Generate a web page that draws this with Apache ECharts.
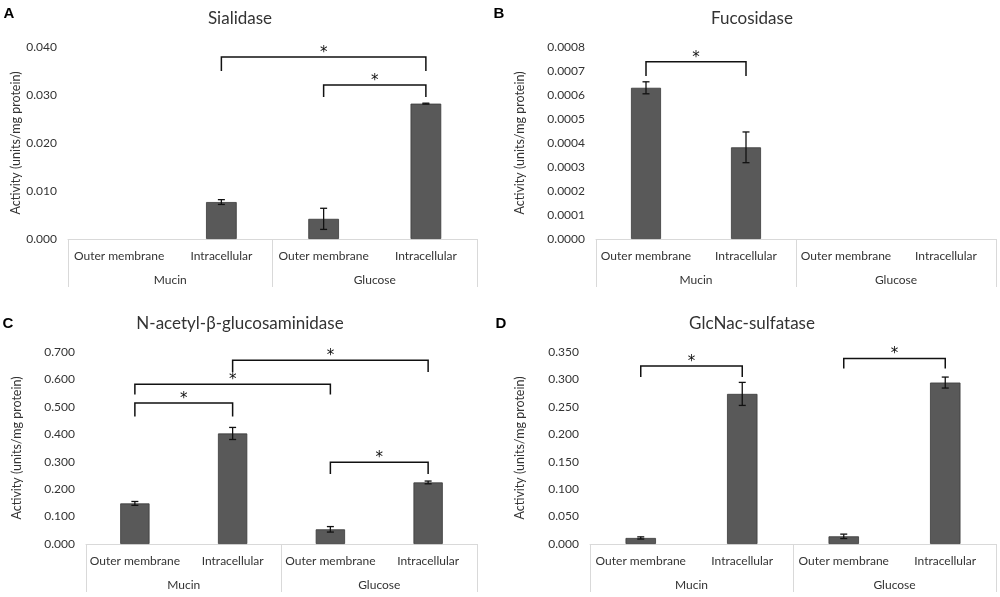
<!DOCTYPE html>
<html>
<head>
<meta charset="utf-8">
<style>
  html, body { margin: 0; padding: 0; background: #fff; }
  #main { width: 1000px; height: 597px; }
</style>
<script src="https://cdn.jsdelivr.net/npm/echarts@6/dist/echarts.min.js"></script>
</head>
<body>
<div id="main"></div>
<script>
// categories (two-level x axis)
var categories = ['Outer membrane', 'Intracellular', 'Outer membrane', 'Intracellular'];
var groups = ['Mucin', 'Glucose'];

// A - Sialidase
var sialidase = [0, 0.0077, 0.0042, 0.0282];
var sialidaseErr = [0, 0.0005, 0.0022, 0.0001];
// B - Fucosidase
var fucosidase = [0.00063, 0.000382, 0, 0];
var fucosidaseErr = [0.000025, 0.000064, 0, 0];
// C - N-acetyl-beta-glucosaminidase
var nag = [0.148, 0.403, 0.0535, 0.2245];
var nagErr = [0.007, 0.022, 0.01, 0.005];
// D - GlcNac-sulfatase
var sulfatase = [0.011, 0.2736, 0.014, 0.2943];
var sulfataseErr = [0.002, 0.021, 0.004, 0.01];

// significance brackets: [from, to, top, left leg end, right leg end]
var sialidaseSig = [[1, 3, 0.0379, 0.035, 0.035], [2, 3, 0.0321, 0.0296, 0.0296]];
var fucosidaseSig = [[0, 1, 0.000739, 0.000679, 0.000679]];
var nagSig = [[0, 1, 0.514, 0.465, 0.465], [0, 2, 0.582, 0.545, 0.545], [1, 3, 0.670, 0.627, 0.627], [2, 3, 0.2985, 0.255, 0.255]];
var sulfataseSig = [[0, 1, 0.3245, 0.3045, 0.3045], [2, 3, 0.338, 0.32, 0.32]];

// y axis ticks
var yMax = [0.04, 0.0008, 0.7, 0.35];
var yStep = [0.01, 0.0001, 0.1, 0.05];
var yDigits = [3, 4, 3, 3];

var titles = ['Sialidase', 'Fucosidase', 'N-acetyl-\u03b2-glucosaminidase', 'GlcNac-sulfatase'];
var letters = ['A', 'B', 'C', 'D'];

var panels = [
  { values: sialidase, errs: sialidaseErr, sig: sialidaseSig, grid: { left: 68, top: 47, width: 409, height: 192 }, nameGap: 45, tx: 240, ty: 19, lx: 9, ly: 14 },
  { values: fucosidase, errs: fucosidaseErr, sig: fucosidaseSig, grid: { left: 596, top: 47, width: 400, height: 192 }, nameGap: 70, tx: 752, ty: 19, lx: 499, ly: 14 },
  { values: nag, errs: nagErr, sig: nagSig, grid: { left: 86, top: 352, width: 391, height: 192 }, nameGap: 63, tx: 240, ty: 324, lx: 8, ly: 324 },
  { values: sulfatase, errs: sulfataseErr, sig: sulfataseSig, grid: { left: 590, top: 352, width: 406, height: 192 }, nameGap: 64, tx: 752, ty: 324, lx: 501, ly: 324 }
];

var textColor = '#333';
var fontFamily = 'Lato, "Open Sans", sans-serif';

function renderError(params, api) {
  var err = api.value(2);
  if (!err) return null;
  var x = api.value(0), v = api.value(1);
  var top = api.coord([x, v + err]);
  var bot = api.coord([x, v - err]);
  var style = { stroke: '#111', lineWidth: 1.3 };
  return {
    type: 'group',
    children: [
      { type: 'line', shape: { x1: top[0], y1: top[1], x2: bot[0], y2: bot[1] }, style: style },
      { type: 'line', shape: { x1: top[0] - 3.5, y1: top[1], x2: top[0] + 3.5, y2: top[1] }, style: style },
      { type: 'line', shape: { x1: bot[0] - 3.5, y1: bot[1], x2: bot[0] + 3.5, y2: bot[1] }, style: style }
    ]
  };
}

function renderBracket(params, api) {
  var a = api.coord([api.value(0), api.value(2)]);
  var b = api.coord([api.value(1), api.value(2)]);
  var la = api.coord([api.value(0), api.value(3)]);
  var lb = api.coord([api.value(1), api.value(4)]);
  return {
    type: 'group',
    children: [
      { type: 'polyline', shape: { points: [la, a, b, lb] }, style: { stroke: '#111', lineWidth: 1.5, fill: null } },
      { type: 'text', x: (a[0] + b[0]) / 2, y: a[1] - 4, style: { text: '*', fill: '#111', font: '15px "DejaVu Sans"', align: 'center', verticalAlign: 'middle' } }
    ]
  };
}

var option = {
  backgroundColor: '#fff',
  animation: false,
  grid: [],
  xAxis: [],
  yAxis: [],
  series: [],
  graphic: []
};

panels.forEach(function (p, i) {
  option.grid.push(p.grid);
  option.xAxis.push({
    type: 'category',
    gridIndex: i,
    position: 'bottom',
    data: categories,
    axisLine: { show: false },
    axisTick: { show: false },
    axisLabel: { interval: 0, margin: 11, color: textColor, fontSize: 12, fontFamily: fontFamily }
  });
  option.xAxis.push({
    type: 'category',
    gridIndex: i,
    position: 'bottom',
    data: groups,
    axisLine: { show: true, lineStyle: { color: '#d9d9d9', width: 1 } },
    axisTick: { show: true, length: 48, lineStyle: { color: '#d9d9d9', width: 1 } },
    axisLabel: { interval: 0, margin: 35, color: textColor, fontSize: 12, fontFamily: fontFamily }
  });
  option.yAxis.push({
    type: 'value',
    gridIndex: i,
    min: 0,
    max: yMax[i],
    interval: yStep[i],
    name: 'Activity (units/mg protein)',
    nameLocation: 'middle',
    nameGap: p.nameGap,
    nameTextStyle: { color: textColor, fontSize: 12.5, fontFamily: fontFamily },
    axisLine: { show: false },
    axisTick: { show: false },
    splitLine: { show: false },
    axisLabel: {
      margin: 11,
      color: textColor,
      fontSize: 12,
      fontFamily: fontFamily,
      formatter: function (v) { return v.toFixed(yDigits[i]); }
    }
  });
  option.series.push({
    type: 'bar',
    xAxisIndex: 2 * i,
    yAxisIndex: i,
    // zero values are left empty so no flat bar is drawn
    data: p.values.map(function (v) { return v === 0 ? '-' : v; }),
    barWidth: '30%',
    itemStyle: { color: '#595959', borderColor: '#3a3a3a', borderWidth: 0.8 }
  });
  option.series.push({
    type: 'custom',
    xAxisIndex: 2 * i,
    yAxisIndex: i,
    renderItem: renderError,
    encode: { x: 0, y: [1, 2] },
    data: p.values.map(function (v, j) { return [j, v, p.errs[j]]; }),
    z: 5
  });
  option.series.push({
    type: 'custom',
    xAxisIndex: 2 * i,
    yAxisIndex: i,
    renderItem: renderBracket,
    encode: { x: [0, 1], y: [2, 3, 4] },
    data: p.sig,
    clip: false,
    z: 5
  });
  option.graphic.push({
    type: 'text', x: p.tx, y: p.ty,
    style: { text: titles[i], fill: '#333', font: '17px ' + fontFamily, align: 'center', verticalAlign: 'middle' }
  });
  option.graphic.push({
    type: 'text', x: p.lx, y: p.ly,
    style: { text: letters[i], fill: '#000', font: 'bold 15px "Liberation Sans", Arial, sans-serif', align: 'center', verticalAlign: 'middle' }
  });
});

var myChart = echarts.init(document.getElementById('main'));
myChart.setOption(option);
</script>
</body>
</html>
